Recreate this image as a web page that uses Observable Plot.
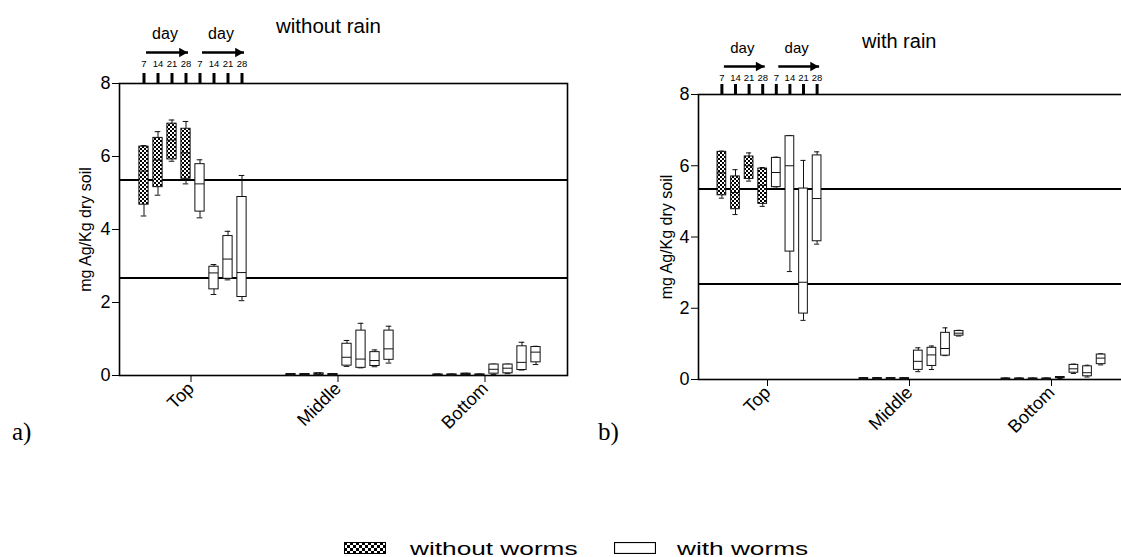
<!DOCTYPE html>
<html>
<head>
<meta charset="utf-8">
<script src="https://cdn.jsdelivr.net/npm/d3@7"></script>
<script src="https://cdn.jsdelivr.net/npm/@observablehq/plot@0.6"></script>
<style>
  html, body { margin: 0; padding: 0; background: #fff; }
  body { width: 1121px; height: 557px; position: relative; overflow: hidden; font-family: "Liberation Sans", Arial, sans-serif; color: #000; }
  .panel { position: absolute; top: 0; height: 480px; }
  .lbl { position: absolute; white-space: nowrap; line-height: 1; }
  .serif { font-family: "Liberation Serif", "Times New Roman", serif; }
</style>
</head>
<body>
<svg width="0" height="0" style="position:absolute">
  <defs>
    <pattern id="checker" width="4" height="4" patternUnits="userSpaceOnUse">
      <rect width="4" height="4" fill="#fff"/>
      <rect width="2" height="2" fill="#000"/>
      <rect x="2" y="2" width="2" height="2" fill="#000"/>
    </pattern>
    <pattern id="checkerLegend" width="6" height="6" patternUnits="userSpaceOnUse">
      <rect width="6" height="6" fill="#fff"/>
      <rect width="3" height="3" fill="#000"/>
      <rect x="3" y="3" width="3" height="3" fill="#000"/>
    </pattern>
  </defs>
</svg>
<div id="pa" class="panel" style="left:0;width:600px;"></div>
<div id="pb" class="panel" style="left:560px;width:561px;overflow:hidden;"></div>

<div class="lbl" style="left:276px;top:16px;font-size:20.5px;">without rain</div>
<div class="lbl" style="left:862px;top:31px;font-size:20px;">with rain</div>
<div class="lbl serif" style="left:12px;top:419px;font-size:25px;">a)</div>
<div class="lbl serif" style="left:598px;top:419px;font-size:25px;">b)</div>

<svg style="position:absolute;left:344px;top:542px" width="42" height="12">
  <rect x="0.5" y="0.5" width="41" height="11" fill="url(#checkerLegend)" stroke="#000" stroke-width="1"/>
</svg>
<div class="lbl" style="left:410px;top:539px;font-size:19px;transform:scaleX(1.38);transform-origin:left center;">without worms</div>
<svg style="position:absolute;left:614px;top:542px" width="42" height="12">
  <rect x="0.5" y="0.5" width="41" height="11" fill="#fff" stroke="#000" stroke-width="1.2"/>
</svg>
<div class="lbl" style="left:677px;top:539px;font-size:19px;transform:scaleX(1.38);transform-origin:left center;">with worms</div>

<script>
// ---------- data ----------
const categories = ["Top", "Middle", "Bottom"];
const days = [7, 14, 21, 28];
const treatments = ["without worms", "with worms"];
const referenceLines = [5.35, 2.67];
const yTicks = [0, 2, 4, 6, 8];
const yLabel = "mg Ag/Kg dry soil";
const dayLabel = "day";

// [min, q1, median, q3, max]; rows: Top d7..d28, Middle d7..d28, Bottom d7..d28
// a) without rain
const noRainWithoutWorms = [
  [4.37, 4.68, 5.60, 6.27, 6.30],
  [4.94, 5.16, 5.90, 6.51, 6.68],
  [5.87, 5.92, 6.45, 6.90, 7.00],
  [5.25, 5.39, 6.10, 6.76, 6.96],
  [0.00, 0.01, 0.02, 0.04, 0.05],
  [0.00, 0.01, 0.02, 0.04, 0.05],
  [0.01, 0.02, 0.04, 0.06, 0.07],
  [0.00, 0.01, 0.02, 0.04, 0.05],
  [0.00, 0.01, 0.02, 0.03, 0.04],
  [0.00, 0.01, 0.02, 0.03, 0.04],
  [0.01, 0.02, 0.03, 0.05, 0.06],
  [0.00, 0.01, 0.02, 0.03, 0.04]
];
const noRainWithWorms = [
  [4.32, 4.49, 5.25, 5.79, 5.91],
  [2.22, 2.36, 2.81, 2.98, 3.04],
  [2.62, 2.65, 3.19, 3.82, 3.95],
  [2.05, 2.15, 2.82, 4.89, 5.48],
  [0.25, 0.27, 0.50, 0.87, 0.96],
  [0.21, 0.21, 0.45, 1.23, 1.43],
  [0.24, 0.26, 0.41, 0.64, 0.70],
  [0.34, 0.43, 0.73, 1.23, 1.35],
  [0.03, 0.05, 0.17, 0.30, 0.31],
  [0.05, 0.06, 0.20, 0.30, 0.31],
  [0.15, 0.15, 0.36, 0.80, 0.91],
  [0.30, 0.36, 0.64, 0.78, 0.80]
];
// b) with rain
const rainWithoutWorms = [
  [5.09, 5.17, 5.80, 6.39, 6.41],
  [4.63, 4.78, 5.25, 5.70, 5.89],
  [5.57, 5.63, 6.00, 6.26, 6.36],
  [4.86, 4.93, 5.45, 5.92, 5.95],
  [0.00, 0.01, 0.02, 0.04, 0.05],
  [0.00, 0.01, 0.02, 0.04, 0.05],
  [0.00, 0.01, 0.02, 0.04, 0.05],
  [0.00, 0.01, 0.02, 0.04, 0.05],
  [0.00, 0.01, 0.02, 0.03, 0.04],
  [0.00, 0.01, 0.02, 0.03, 0.04],
  [0.00, 0.01, 0.02, 0.03, 0.04],
  [0.00, 0.01, 0.02, 0.03, 0.04]
];
const rainWithWorms = [
  [5.37, 5.40, 5.81, 6.22, 6.24],
  [3.03, 3.59, 6.00, 6.83, 6.85],
  [1.66, 1.85, 2.73, 5.36, 6.15],
  [3.80, 3.88, 5.08, 6.29, 6.39],
  [0.22, 0.27, 0.51, 0.81, 0.89],
  [0.28, 0.38, 0.69, 0.89, 0.94],
  [0.67, 0.67, 0.87, 1.31, 1.45],
  [1.22, 1.23, 1.30, 1.36, 1.38],
  [0.03, 0.04, 0.05, 0.07, 0.08],
  [0.17, 0.19, 0.30, 0.41, 0.43],
  [0.07, 0.09, 0.19, 0.37, 0.40],
  [0.41, 0.43, 0.60, 0.70, 0.72]
];

// ---------- build ----------
const FONT = "'Liberation Sans', Arial, sans-serif";
const seriesKeys = treatments.flatMap(t => days.map(d => `${t} ${d}`));
const fills = {"without worms": "url(#checker)", "with worms": "#fff"};

function buildRows(withoutArr, withArr) {
  const rows = [];
  [withoutArr, withArr].forEach((arr, t) => {
    arr.forEach(([min, q1, med, q3, max], i) => {
      const day = days[i % days.length];
      rows.push({
        cat: categories[Math.floor(i / days.length)],
        treat: treatments[t], day, series: `${treatments[t]} ${day}`,
        min, q1, med, q3, max
      });
    });
  });
  return rows;
}

function panel(cfg) {
  const rows = buildRows(cfg.without, cfg.with);
  const topRows = rows.filter(d => d.cat === categories[0]);
  const arrows = treatments.map(t => ({cat: categories[0], from: `${t} ${days[0]}`, to: `${t} ${days[days.length - 1]}`, mid: `${t} ${days[1]}`}));
  return Plot.plot({
    width: cfg.width, height: cfg.height,
    marginLeft: cfg.ml, marginRight: cfg.mr, marginTop: cfg.mt, marginBottom: cfg.mb,
    style: {background: "transparent", fontFamily: FONT, overflow: "visible", maxWidth: "none", color: "#000"},
    fx: {domain: categories, paddingInner: 0, paddingOuter: cfg.fxPad, align: 0, round: false, label: null},
    x: {domain: seriesKeys, paddingInner: cfg.xInner, paddingOuter: cfg.xOuter, round: false, axis: null},
    y: {domain: [0, 8], label: null},
    marks: [
      Plot.ruleY(referenceLines, {stroke: "#000", strokeWidth: 2, insetRight: -cfg.ext, shapeRendering: "crispEdges"}),
      Plot.frame({facet: "super", stroke: "#000", strokeWidth: 1.6, insetRight: -cfg.ext}),
      Plot.ruleX(rows, {fx: "cat", x: "series", y1: "min", y2: "max", stroke: "#111", strokeWidth: 1}),
      Plot.tickY(rows, {fx: "cat", x: "series", y: "min", stroke: "#111", strokeWidth: 1, insetLeft: 1.8, insetRight: 1.8}),
      Plot.tickY(rows, {fx: "cat", x: "series", y: "max", stroke: "#111", strokeWidth: 1, insetLeft: 1.8, insetRight: 1.8}),
      ...treatments.map(t => Plot.barY(rows.filter(d => d.treat === t), {fx: "cat", x: "series", y1: "q1", y2: "q3", fill: fills[t], stroke: "#111", strokeWidth: 1})),
      Plot.tickY(rows, {fx: "cat", x: "series", y: "med", stroke: "#111", strokeWidth: 1}),
      // day annotation above the Top group
      Plot.ruleX(topRows, {fx: "cat", x: "series", y1: () => 8, y2: () => 8, insetTop: -10, stroke: "#000", strokeWidth: 3}),
      Plot.text(topRows, {fx: "cat", x: "series", text: "day", frameAnchor: "top", lineAnchor: "middle", dy: cfg.dayNumDy, fontSize: 9.5}),
      Plot.link(arrows, {fx: "cat", x1: "from", x2: "to", y1: () => 8, y2: () => 8, dx: 2, dy: cfg.arrowDy, stroke: "#000", strokeWidth: 2.6}),
      Plot.dot(arrows, {fx: "cat", x: "to", y: () => 8, dx: -4, dy: cfg.arrowDy, symbol: "triangle", rotate: 90, r: 3.6, fill: "#000", stroke: "none"}),
      Plot.text(arrows, {fx: "cat", x: "mid", text: () => dayLabel, frameAnchor: "top", lineAnchor: "middle", dx: cfg.step / 2, dy: cfg.dayDy, fontSize: cfg.dayFont}),
      // axes
      Plot.axisY({ticks: yTicks, tickSize: 7, tickPadding: 2, fontSize: 18, label: null, tickFormat: d => d}),
      Plot.axisFx({anchor: "bottom", tickSize: 7, tickPadding: 3, dx: -2, tickRotate: -45, fontSize: 18, label: null}),
      Plot.text([yLabel], {facet: "super", frameAnchor: "left", textAnchor: "middle", text: d => d, rotate: -90, dx: cfg.yLabelDx, fontSize: 16})
    ]
  });
}

document.getElementById("pa").append(panel({
  without: noRainWithoutWorms, with: noRainWithWorms,
  width: 600, height: 480, ml: 119, mr: 33, mt: 83, mb: 105,
  fxPad: 0.0238, xInner: 0.34, xOuter: 1.42, step: 14, ext: 7,
  dayNumDy: -20, arrowDy: -31, dayDy: -50, dayFont: 16, yLabelDx: -34
}));
document.getElementById("pb").append(panel({
  without: rainWithoutWorms, with: rainWithWorms,
  width: 564, height: 480, ml: 138, mr: 0, mt: 94, mb: 101,
  fxPad: 0, xInner: 0.36, xOuter: 1.4, step: 13.6, ext: 0,
  dayNumDy: -17, arrowDy: -28, dayDy: -46, dayFont: 15, yLabelDx: -32
}));
</script>
</body>
</html>
